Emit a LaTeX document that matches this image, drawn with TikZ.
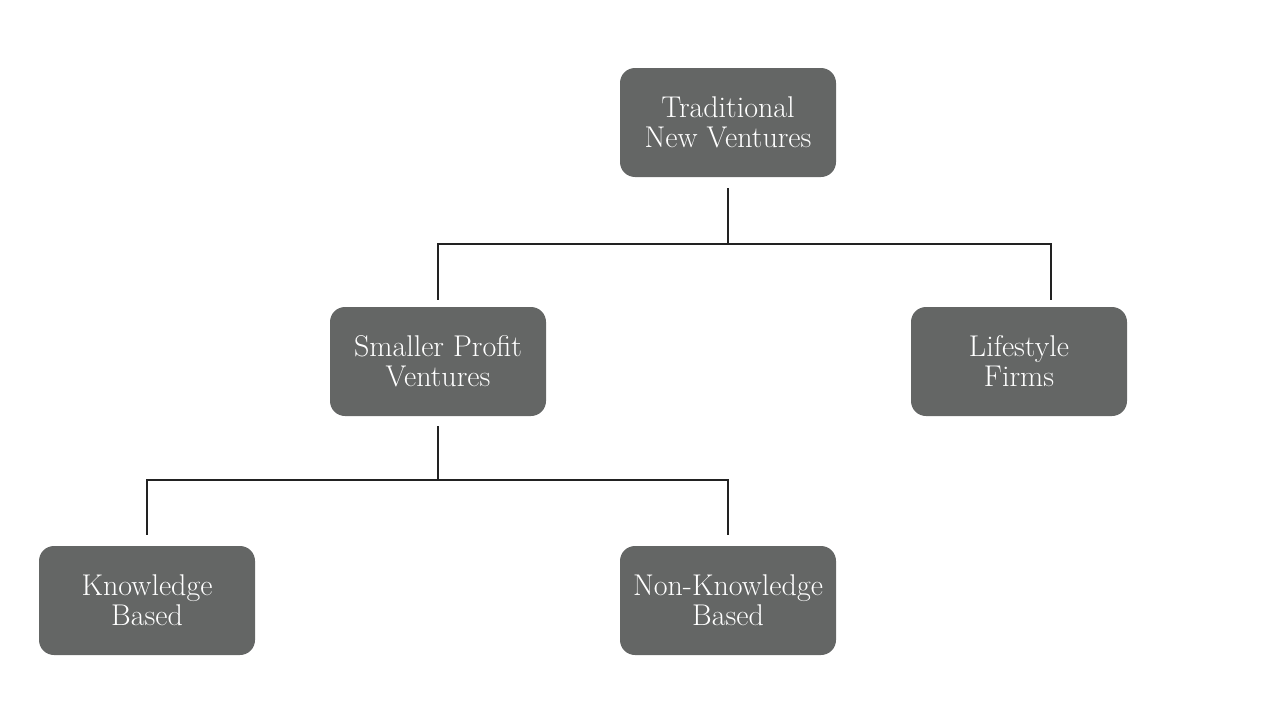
\documentclass[tikz,border=0pt]{standalone}
\definecolor{boxfill}{HTML}{646665}
\definecolor{linecol}{HTML}{222222}
\tikzset{
  vbox/.style={fill=boxfill, text=white, rounded corners=15pt, minimum width=216pt, minimum height=109pt, align=center, inner sep=0pt, font=\fontsize{30}{30}\selectfont},
  conn/.style={draw=linecol, line width=2.8pt}
}
\begin{document}
\begin{tikzpicture}[x=1pt,y=-1pt]
\useasboundingbox (0,0) rectangle (1280,704);
\node[vbox] (t) at (728,122.5) {Traditional\\New Ventures};
\node[vbox] (s) at (438,361.5) {Smaller Profit\\Ventures};
\node[vbox] (l) at (1019,361.5) {Lifestyle\\Firms};
\node[vbox] (k) at (147,600.5) {Knowledge\\Based};
\node[vbox] (n) at (728,600.5) {Non-Knowledge\\Based};
\coordinate (lc) at (1051,300);
\draw[conn, shorten <=11pt, shorten >=7pt] (t.south) |- (438,244) -- (s.north);
\draw[conn, shorten <=11pt] (t.south) |- (1051,244) -- (lc);
\draw[conn, shorten <=10pt, shorten >=11pt] (s.south) |- (147,480) -- (k.north);
\draw[conn, shorten <=10pt, shorten >=11pt] (s.south) |- (728,480) -- (n.north);
\end{tikzpicture}
\end{document}
